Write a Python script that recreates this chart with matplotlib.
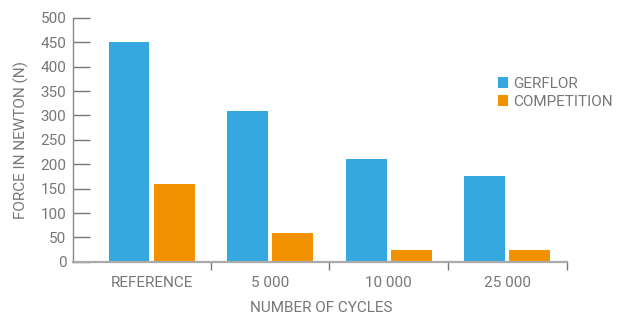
import matplotlib
matplotlib.use("Agg")
import matplotlib.pyplot as plt
import numpy as np

categories = ["REFERENCE", "5 000", "10 000", "25 000"]
gerflor = [450, 310, 210, 175]
competition = [160, 60, 25, 25]
series_names = ["GERFLOR", "COMPETITION"]
yticks = [0, 50, 100, 150, 200, 250, 300, 350, 400, 450, 500]

blue = "#35A8E0"
orange = "#F39200"
grey = "#777777"

plt.rcParams['font.family'] = ['Roboto', 'DejaVu Sans']

fig = plt.figure(figsize=(6.26, 3.14), dpi=100)
ax = fig.add_axes([0.117, 0.166, 0.792, 0.777])

x = np.arange(len(categories))
w = 0.345
off = 0.19
ax.bar(x - off, gerflor, width=w, color=blue, label=series_names[0])
ax.bar(x + off, competition, width=w, color=orange, label=series_names[1])

ax.set_xlim(-0.66, 3.52)
ax.set_ylim(0, 500)
ax.set_yticks(yticks)
ax.set_xticks(x)
ax.set_xticklabels(categories)
ax.tick_params(axis='x', length=0, pad=10, labelsize=11, colors=grey)
ax.set_xticks([0.5, 1.5, 2.5, 3.5], minor=True)
ax.tick_params(axis='x', which='minor', length=6, width=1, color="#777777", direction='out')
ax.tick_params(axis='y', length=12, width=1, direction='in', color="#777777",
               labelsize=11, labelcolor=grey, pad=5)
for s in ['top', 'right']:
    ax.spines[s].set_visible(False)
ax.spines['left'].set_color("#888888")
ax.spines['left'].set_linewidth(1)
ax.spines['bottom'].set_color("#aaaaaa")
ax.spines['bottom'].set_linewidth(1.6)
ax.spines['bottom'].set_bounds(-0.66, 3.5)

ax.set_ylabel("FORCE IN NEWTON (N)", fontsize=11, color=grey, labelpad=8)
ax.set_xlabel("NUMBER OF CYCLES", fontsize=11, color=grey, labelpad=8)

leg = ax.legend(loc='upper left', bbox_to_anchor=(0.795, 0.755),
                bbox_transform=fig.transFigure, frameon=False,
                fontsize=11, handlelength=0.7, handleheight=0.7, handletextpad=0.3,
                labelspacing=0.25, borderaxespad=0, borderpad=0)
for t in leg.get_texts():
    t.set_color(grey)

fig.savefig("out.png", dpi=100)
